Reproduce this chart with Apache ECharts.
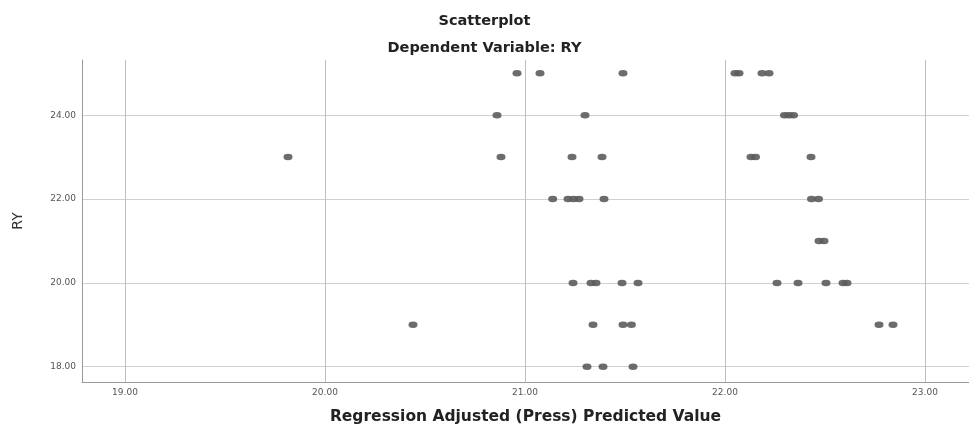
<!DOCTYPE html>
<html>
<head>
<meta charset="utf-8">
<script src="https://cdn.jsdelivr.net/npm/echarts@6/dist/echarts.min.js"></script>
<style>html,body{margin:0;padding:0;background:#fff}#c{width:969px;height:426px}</style>
</head>
<body>
<div id="c"></div>
<script>
// RY levels (y values) and predicted values (x) read for each level
const ryLevels = [25, 24, 23, 22, 21, 20, 19, 18];
const predictedAt25 = [20.96, 21.075, 21.49, 22.05, 22.07, 22.185, 22.22];
const predictedAt24 = [20.86, 21.30, 22.2975, 22.32, 22.3425];
const predictedAt23 = [19.815, 20.88, 21.235, 21.385, 22.13, 22.1525, 22.43];
const predictedAt22 = [21.1385, 21.215, 21.2435, 21.27, 21.395, 22.4325, 22.4675];
const predictedAt21 = [22.47, 22.495];
const predictedAt20 = [21.24, 21.33, 21.355, 21.485, 21.565, 22.26, 22.365, 22.505, 22.59, 22.61];
const predictedAt19 = [20.44, 21.34, 21.49, 21.532, 22.77, 22.84];
const predictedAt18 = [21.31, 21.39, 21.54];
const xTicks = [19, 20, 21, 22, 23];
const yTicks = [18, 20, 22, 24];

const byLevel = [predictedAt25, predictedAt24, predictedAt23, predictedAt22,
                 predictedAt21, predictedAt20, predictedAt19, predictedAt18];
const points = [];
byLevel.forEach((xs, i) => xs.forEach(x => points.push([x, ryLevels[i]])));

const chart = echarts.init(document.getElementById('c'));
const fmt = v => Number(v).toFixed(2);
chart.setOption({
  animation: false,
  title: [
    { text: 'Scatterplot', left: 'center', top: 9,
      textStyle: { fontFamily: 'DejaVu Sans', fontWeight: 'bold', fontSize: 14.5, color: '#222' } },
    { text: 'Dependent Variable: RY', left: 'center', top: 36,
      textStyle: { fontFamily: 'DejaVu Sans', fontWeight: 'bold', fontSize: 14.5, color: '#222' } }
  ],
  grid: { left: 82, right: 0, top: 60, bottom: 44, containLabel: false, outerBoundsMode: 'none' },
  xAxis: {
    type: 'value', min: 18.785, max: 23.22,
    name: 'Regression Adjusted (Press) Predicted Value',
    nameLocation: 'middle', nameGap: 27,
    nameTextStyle: { fontFamily: 'DejaVu Sans', fontWeight: 'bold', fontSize: 15.5, color: '#222' },
    axisLine: { show: true, onZero: false, lineStyle: { color: '#999', width: 1 } },
    axisTick: { show: false, customValues: xTicks },
    axisLabel: { customValues: xTicks, formatter: fmt, fontFamily: 'DejaVu Sans', fontSize: 9, color: '#555', margin: 6 },
    splitLine: { show: true, lineStyle: { color: '#bebebe', width: 1 } }
  },
  yAxis: {
    type: 'value', min: 17.636, max: 25.316,
    name: 'RY', nameLocation: 'middle', nameGap: 57, nameRotate: 90,
    nameTextStyle: { fontFamily: 'DejaVu Sans', fontSize: 14, color: '#333' },
    axisLine: { show: true, onZero: false, lineStyle: { color: '#999', width: 1 } },
    axisTick: { show: false, customValues: yTicks },
    axisLabel: { customValues: yTicks, formatter: fmt, fontFamily: 'DejaVu Sans', fontSize: 9, color: '#555', margin: 6 },
    splitLine: { show: true, lineStyle: { color: '#d0d0d0', width: 1 } }
  },
  series: [{
    type: 'scatter',
    data: points,
    symbol: 'circle',
    symbolSize: [9, 6.5],
    itemStyle: { color: '#5c5c5c', opacity: 0.9 }
  }]
});
</script>
</body>
</html>
